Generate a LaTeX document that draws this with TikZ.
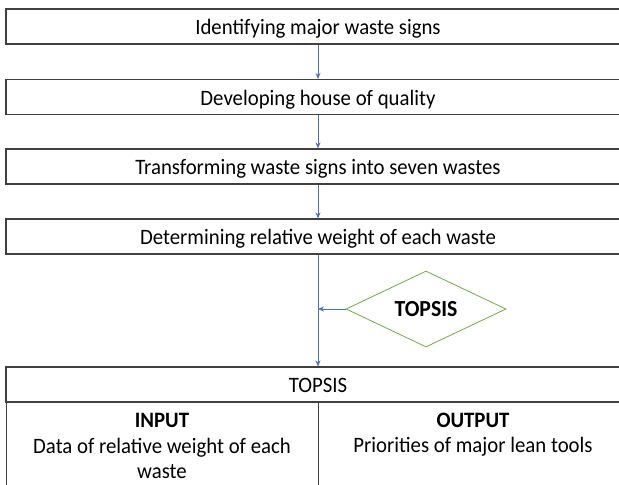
\documentclass[tikz,border=0pt]{standalone}
\usepackage{fontspec}
\setmainfont{Carlito}[FakeStretch=0.945]
\usetikzlibrary{shapes.geometric,arrows.meta}
\definecolor{boxline}{HTML}{404040}
\definecolor{arrowblue}{HTML}{4472C4}
\definecolor{diagreen}{HTML}{70AD47}
\begin{document}
\begin{tikzpicture}[x=1pt,y=1pt,
  stepbox/.style={draw=boxline, line width=1.2pt, minimum width=624pt, minimum height=35pt, inner sep=0pt, text height=16pt, text depth=0pt, font=\fontsize{22}{26}\selectfont},
  cellbox/.style={draw=boxline, line width=1.2pt, minimum width=312pt, minimum height=90pt, inner sep=0pt, anchor=north west},
  txt/.style={inner sep=0pt, anchor=base, font=\fontsize{22}{26}\selectfont},
  flow/.style={draw=arrowblue, line width=0.8pt, -{Stealth[length=6pt,width=5pt]}},
  decision/.style={diamond, draw=diagreen, line width=0.8pt, aspect=2.1, minimum width=160pt, minimum height=76pt, inner sep=0pt, text height=14.8pt, text depth=0pt, font=\fontsize{23}{27}\selectfont\bfseries}
]
\useasboundingbox (0,0) rectangle (619,-485);
\clip (0,0) rectangle (619,-485);

\node[stepbox] (s1) at (318,-26.5) {Identifying major waste signs};
\node[stepbox] (s2) at (318,-97) {Developing house of quality};
\node[stepbox] (s3) at (318,-166.5) {Transforming waste signs into seven wastes};
\node[stepbox] (s4) at (318,-236.5) {Determining relative weight of each waste};

\node[stepbox] (top) at (318,-384.5) {TOPSIS};
\node[cellbox] (incell) at (6,-402) {};
\node[cellbox] (outcell) at (318,-402) {};

\node[txt, font=\fontsize{22}{26}\selectfont\bfseries] (intitle) at (162,-427) {INPUT};
\node[txt] (in1) at (162,-453) {Data of relative weight of each};
\node[txt] (in2) at (162,-478) {waste};
\node[txt, font=\fontsize{22}{26}\selectfont\bfseries] (outtitle) at (473,-427) {OUTPUT};
\node[txt] (out1) at (473,-452) {Priorities of major lean tools};

\node[decision] (dec) at (426,-309) {TOPSIS};
\coordinate (join) at (dec.west -| s4.south);

\draw[flow] (s1.south) -- (s2.north);
\draw[flow] (s2.south) -- (s3.north);
\draw[flow] (s3.south) -- (s4.north);
\draw[flow] (s4.south) -- (top.north);
\draw[flow] (dec.west) -- (join);
\end{tikzpicture}
\end{document}
